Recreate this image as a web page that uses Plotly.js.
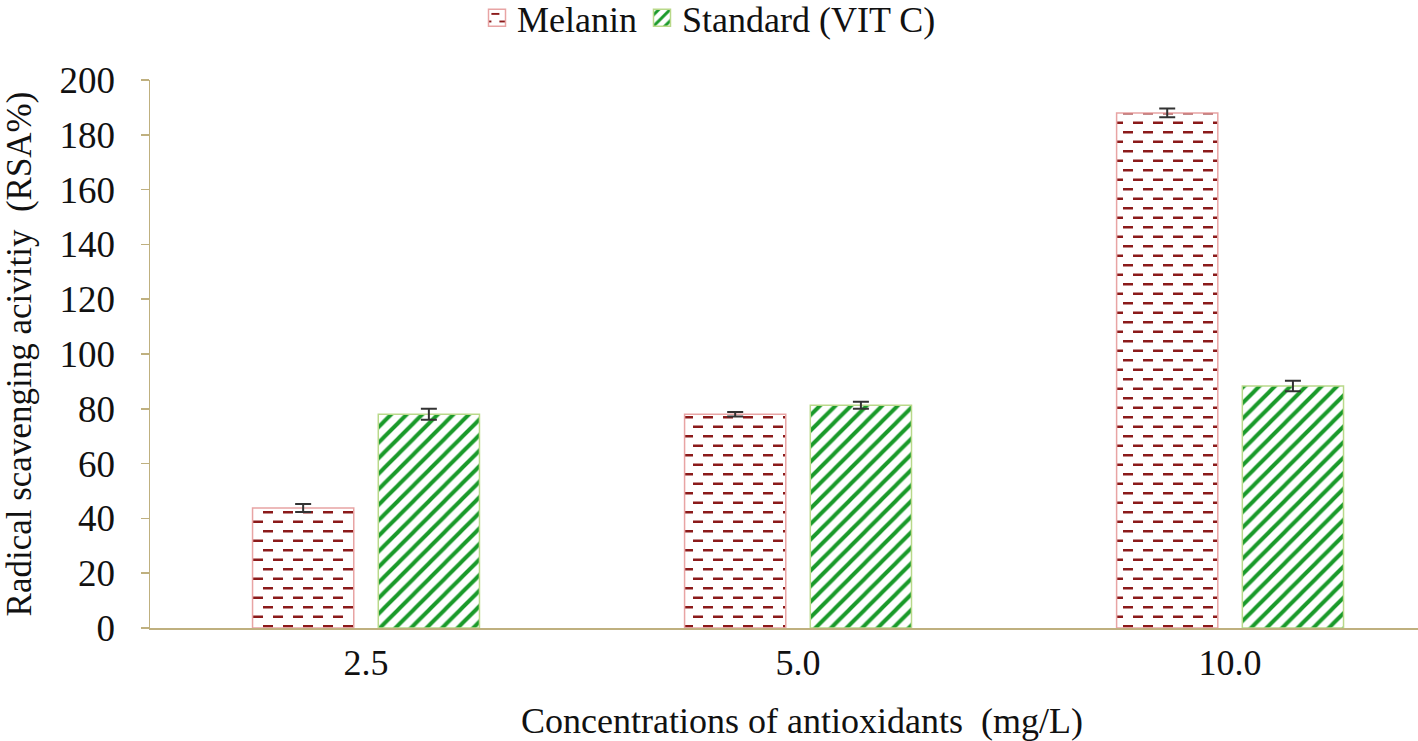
<!DOCTYPE html>
<html>
<head>
<meta charset="utf-8">
<script src="https://cdn.plot.ly/plotly-3.0.1.min.js"></script>
<style>html,body{margin:0;padding:0;background:#fff;} #chart{width:1418px;height:741px;}</style>
</head>
<body>
<div id="chart"></div>
<script>
const categories = ['2.5', '5.0', '10.0'];
const melanin = [43.8, 78.0, 188.0];
const melaninErr = [1.5, 0.8, 1.6];
const vitC = [78.0, 81.3, 88.3];
const vitCErr = [2.0, 1.3, 1.9];
const seriesNames = ['Melanin', 'Standard (VIT C)'];

const serif = '"Liberation Serif", "Times New Roman", serif';
const axisColor = '#bfb07f';
const textColor = '#111111';

const traces = [
  {
    type: 'bar', name: seriesNames[0], x: categories, y: melanin,
    marker: {
      color: '#ffffff',
      line: {color: '#e8a4a4', width: 1.5},
      pattern: {shape: '-', fgcolor: '#8b1a1a', bgcolor: '#ffffff', size: 9.5, solidity: 0.25}
    },
    error_y: {type: 'data', array: melaninErr, visible: true, color: '#333333', thickness: 2, width: 8}
  },
  {
    type: 'bar', name: seriesNames[1], x: categories, y: vitC,
    marker: {
      color: '#ffffff',
      line: {color: '#b9d98a', width: 1.5},
      pattern: {shape: '/', fgcolor: '#1a9a2a', bgcolor: '#ffffff', size: 11, solidity: 0.36}
    },
    error_y: {type: 'data', array: vitCErr, visible: true, color: '#333333', thickness: 2, width: 8}
  }
];

const layout = {
  width: 1418, height: 741,
  margin: {l: 150, r: 0, t: 80, b: 113},
  paper_bgcolor: '#ffffff', plot_bgcolor: '#ffffff',
  font: {family: serif, color: textColor, size: 36},
  barmode: 'group', bargap: 0.418, bargroupgap: 0.195,
  showlegend: true,
  legend: {
    orientation: 'h', xref: 'container', yref: 'container',
    x: 0.5, xanchor: 'center', y: 0.976, yanchor: 'middle',
    font: {family: serif, size: 36, color: textColor},
    itemwidth: 30, traceorder: 'normal'
  },
  xaxis: {
    type: 'category', range: [-0.5, 2.435],
    showline: true, linecolor: axisColor, linewidth: 1.5,
    ticks: '', showgrid: false, zeroline: false,
    tickfont: {family: serif, size: 36, color: textColor},
    ticklabelstandoff: 2
  },
  yaxis: {
    range: [0, 200], dtick: 20, tick0: 0,
    showline: true, linecolor: axisColor, linewidth: 1.5,
    ticks: 'outside', ticklen: 8, tickcolor: axisColor, tickwidth: 1.5,
    showgrid: false, zeroline: false,
    tickfont: {family: serif, size: 37, color: textColor},
    ticklabelstandoff: 18,
    title: {text: 'Radical scavenging acivitiy  (RSA%)', font: {family: serif, size: 35, color: textColor}, standoff: 24}
  },
  annotations: [
    {
      text: 'Concentrations of antioxidants  (mg/L)', xref: 'paper', yref: 'paper',
      x: 0.514, y: -0.17, xanchor: 'center', yanchor: 'middle', showarrow: false,
      font: {family: serif, size: 36, color: textColor}
    }
  ]
};

function dashPatterns() {
  const ns = 'http://www.w3.org/2000/svg';
  document.querySelectorAll('#chart pattern').forEach(p => {
    const html = p.outerHTML;
    if (!(html.indexOf('139, 26, 26') >= 0 || html.toLowerCase().indexOf('8b1a1a') >= 0)) return;
    const w = 20, h = 19;
    p.setAttribute('width', w);
    p.setAttribute('height', h);
    while (p.firstChild) p.removeChild(p.firstChild);
    const bg = document.createElementNS(ns, 'rect');
    bg.setAttribute('x', 0); bg.setAttribute('y', 0);
    bg.setAttribute('width', w); bg.setAttribute('height', h);
    bg.setAttribute('fill', '#ffffff');
    p.appendChild(bg);
    const path = document.createElementNS(ns, 'path');
    path.setAttribute('d', 'M3,4.75H13M-7,14.25H3M13,14.25H23');
    path.setAttribute('stroke', '#8b1a1a');
    path.setAttribute('stroke-width', '2.4');
    path.setAttribute('fill', 'none');
    p.appendChild(path);
  });
  document.querySelectorAll('#chart .legend .legendpoints path').forEach(el => {
    el.setAttribute('d', 'M8.5,8.5H-8.5V-8.5H8.5Z');
  });
}

Plotly.newPlot('chart', traces, layout, {displayModeBar: false, staticPlot: true}).then(dashPatterns);
</script>
</body>
</html>
